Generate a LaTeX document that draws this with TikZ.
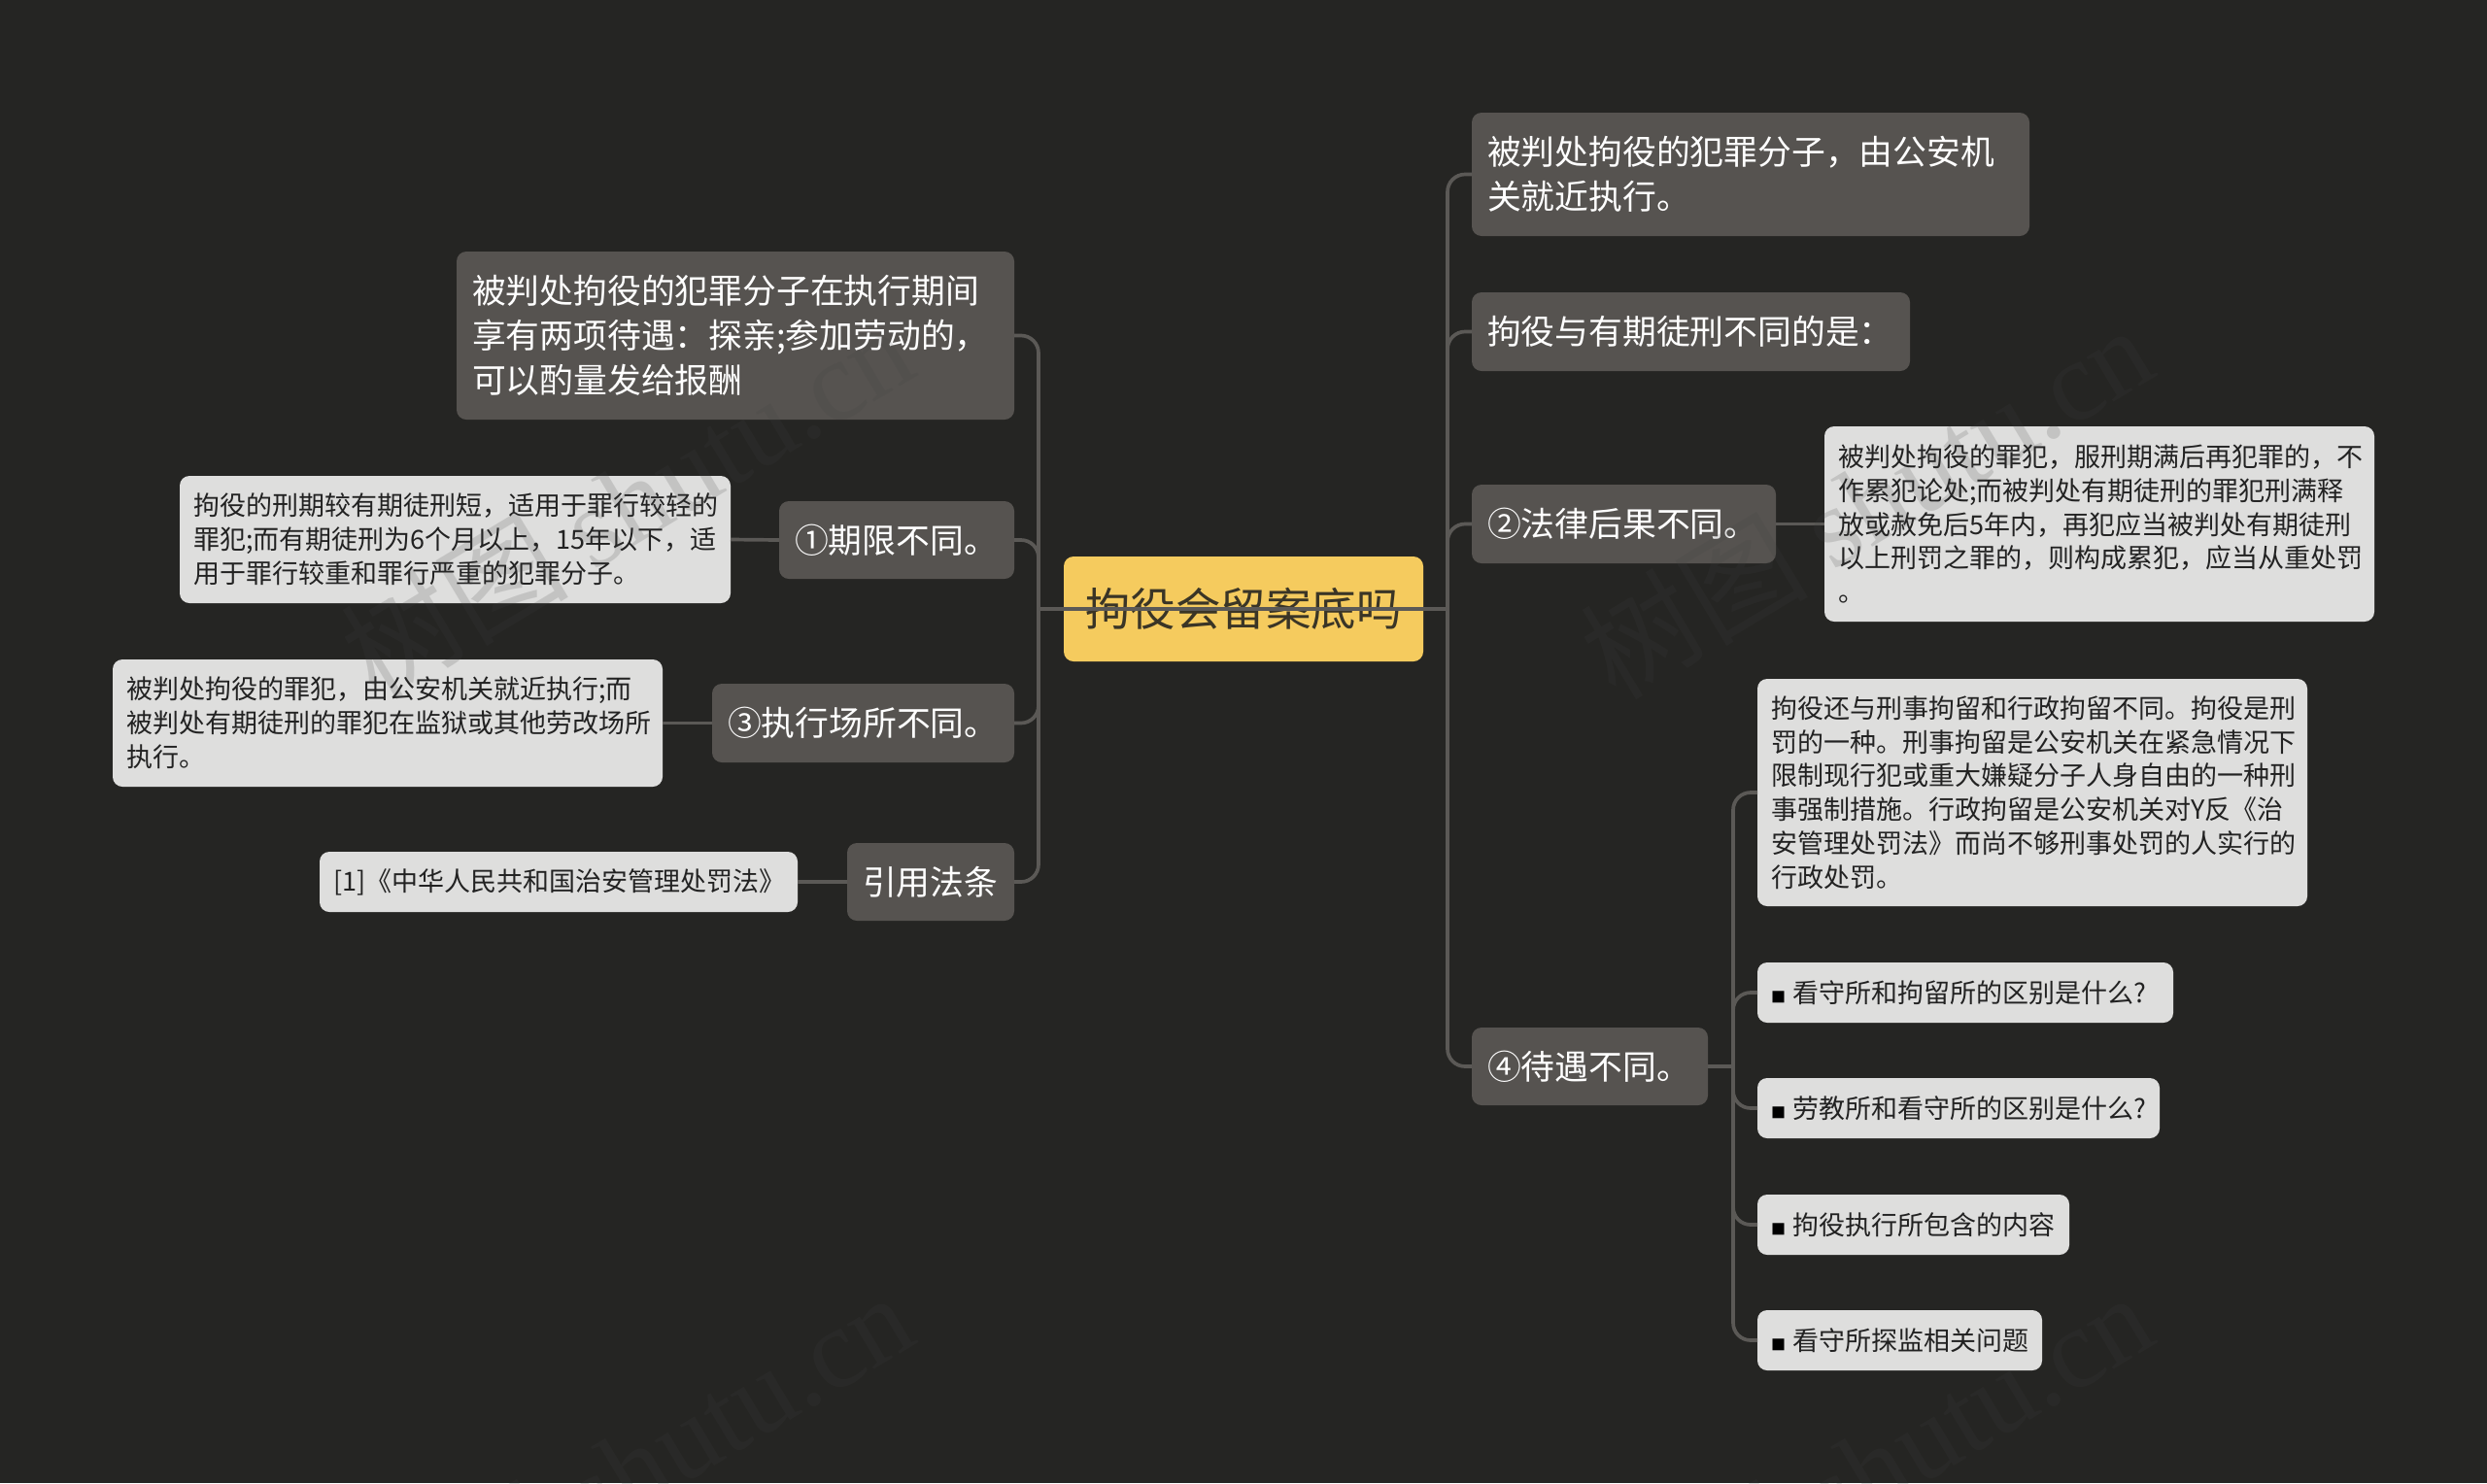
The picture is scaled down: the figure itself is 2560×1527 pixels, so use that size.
\documentclass[tikz,border=0pt]{standalone}
\usepackage{fontspec}
\setmainfont{Noto Sans CJK SC}
\newfontfamily\wmlatin{Liberation Serif}
\definecolor{bgc}{HTML}{252523}
\definecolor{rootc}{HTML}{F5CB5E}
\definecolor{midc}{HTML}{565350}
\definecolor{leafc}{HTML}{DEDEDD}
\definecolor{linkc}{HTML}{5B5956}
\definecolor{inkc}{HTML}{222222}
\definecolor{rootink}{HTML}{3A3526}
\definecolor{wmc}{HTML}{424242}
\tikzset{
  rootbox/.style={fill=rootc,text=rootink,rounded corners=10pt,inner xsep=22pt,inner ysep=0pt,outer sep=0pt,align=center,font=\fontsize{46.5}{56}\selectfont},
  midbox/.style={fill=midc,text=white,rounded corners=10pt,inner xsep=16pt,inner ysep=0pt,outer sep=0pt,align=left,font=\fontsize{34.8}{46}\selectfont},
  leafbox/.style={fill=leafc,text=inkc,rounded corners=10pt,inner xsep=14pt,inner ysep=0pt,outer sep=0pt,align=left,font=\fontsize{27}{34.8}\selectfont},
  link/.style={draw=linkc,line width=3.7pt,rounded corners=18pt},
  wm/.style={rotate=31,text=wmc,opacity=0.17,font=\fontsize{117}{117}\selectfont},
}
\newcommand\bx[7]{\node[#6,text width={#4-#2-2*\pgfkeysvalueof{/pgf/inner xsep}},minimum height={#5-#3}] (#1) at ({(#2+#4)/2},{(#3+#5)/2}) {#7};}
\newcommand\bul{{\fontsize{15}{15}\selectfont\textcolor{black}{■}}\kern7pt}
\newcommand\wmtext{树图 {\wmlatin shutu.cn}}
\begin{document}
\begin{tikzpicture}[x=1pt,y=-1pt]
\useasboundingbox (0,0) rectangle (2560,1527);
\fill[bgc] (0,0) rectangle (2560,1527);
\coordinate (tl) at (1069,627);
\coordinate (tr) at (1490,627);
\coordinate (st) at (1784,1098);
% nodes
\bx{root}{1095}{573}{1465}{681}{rootbox}{拘役会留案底吗}
\bx{la}{470}{259}{1044}{432}{midbox}{被判处拘役的犯罪分子在执行期间\\享有两项待遇：探亲;参加劳动的，\\可以酌量发给报酬}
\bx{lb}{802}{516}{1044}{596}{midbox}{①期限不同。}
\bx{lbd}{185}{490}{752}{621}{leafbox}{拘役的刑期较有期徒刑短，适用于罪行较轻的\\罪犯;而有期徒刑为6个月以上，15年以下，适\\用于罪行较重和罪行严重的犯罪分子。}
\bx{lc}{733}{704}{1044}{785}{midbox}{③执行场所不同。}
\bx{lcd}{116}{679}{682}{810}{leafbox}{被判处拘役的罪犯，由公安机关就近执行;而\\被判处有期徒刑的罪犯在监狱或其他劳改场所\\执行。}
\bx{ld}{872}{868}{1044}{948}{midbox}{引用法条}
\bx{ldd}{329}{877}{821}{939}{leafbox}{[1]《中华人民共和国治安管理处罚法》}
\bx{ra}{1515}{116}{2089}{243}{midbox}{被判处拘役的犯罪分子，由公安机\\关就近执行。}
\bx{rb}{1515}{301}{1966}{382}{midbox}{拘役与有期徒刑不同的是：}
\bx{rc}{1515}{499}{1828}{580}{midbox}{②法律后果不同。}
\bx{rcd}{1878}{439}{2444}{640}{leafbox}{被判处拘役的罪犯，服刑期满后再犯罪的，不\\作累犯论处;而被判处有期徒刑的罪犯刑满释\\放或赦免后5年内，再犯应当被判处有期徒刑\\以上刑罚之罪的，则构成累犯，应当从重处罚\\。}
\bx{rd}{1515}{1058}{1758}{1138}{midbox}{④待遇不同。}
\bx{rda}{1809}{699}{2375}{933}{leafbox}{拘役还与刑事拘留和行政拘留不同。拘役是刑\\罚的一种。刑事拘留是公安机关在紧急情况下\\限制现行犯或重大嫌疑分子人身自由的一种刑\\事强制措施。行政拘留是公安机关对Y反《治\\安管理处罚法》而尚不够刑事处罚的人实行的\\行政处罚。}
\bx{rdb}{1809}{991}{2237}{1053}{leafbox}{\bul 看守所和拘留所的区别是什么?}
\bx{rdc}{1809}{1110}{2223}{1172}{leafbox}{\bul 劳教所和看守所的区别是什么?}
\bx{rdd}{1809}{1230}{2130}{1292}{leafbox}{\bul 拘役执行所包含的内容}
\bx{rde}{1809}{1349}{2102}{1411}{leafbox}{\bul 看守所探监相关问题}
% connectors
\foreach \n in {la,lb,lc,ld}{\draw[link] (\n.east) -| (tl);}
\foreach \n in {ra,rb,rc,rd}{\draw[link] (\n.west) -| (tr);}
\foreach \n in {rda,rdb,rdc,rdd,rde}{\draw[link] (\n.west) -| (st);}
\draw[link] (rd.east) -- (st);
\draw[link] (lb.west) -- (lbd.east);
\draw[link] (lc.west) -- (lcd.east);
\draw[link] (ld.west) -- (ldd.east);
\draw[link] (rc.east) -- (rcd.west);
\draw[link] (tl) -- (tr);
% watermark
\node[wm] (w1) at (645,516) {\wmtext};
\node[wm] (w2) at (1921,516) {\wmtext};
\node[wm] (w3) at (645,1512) {\wmtext};
\node[wm] (w4) at (1921,1512) {\wmtext};
\end{tikzpicture}
\end{document}
